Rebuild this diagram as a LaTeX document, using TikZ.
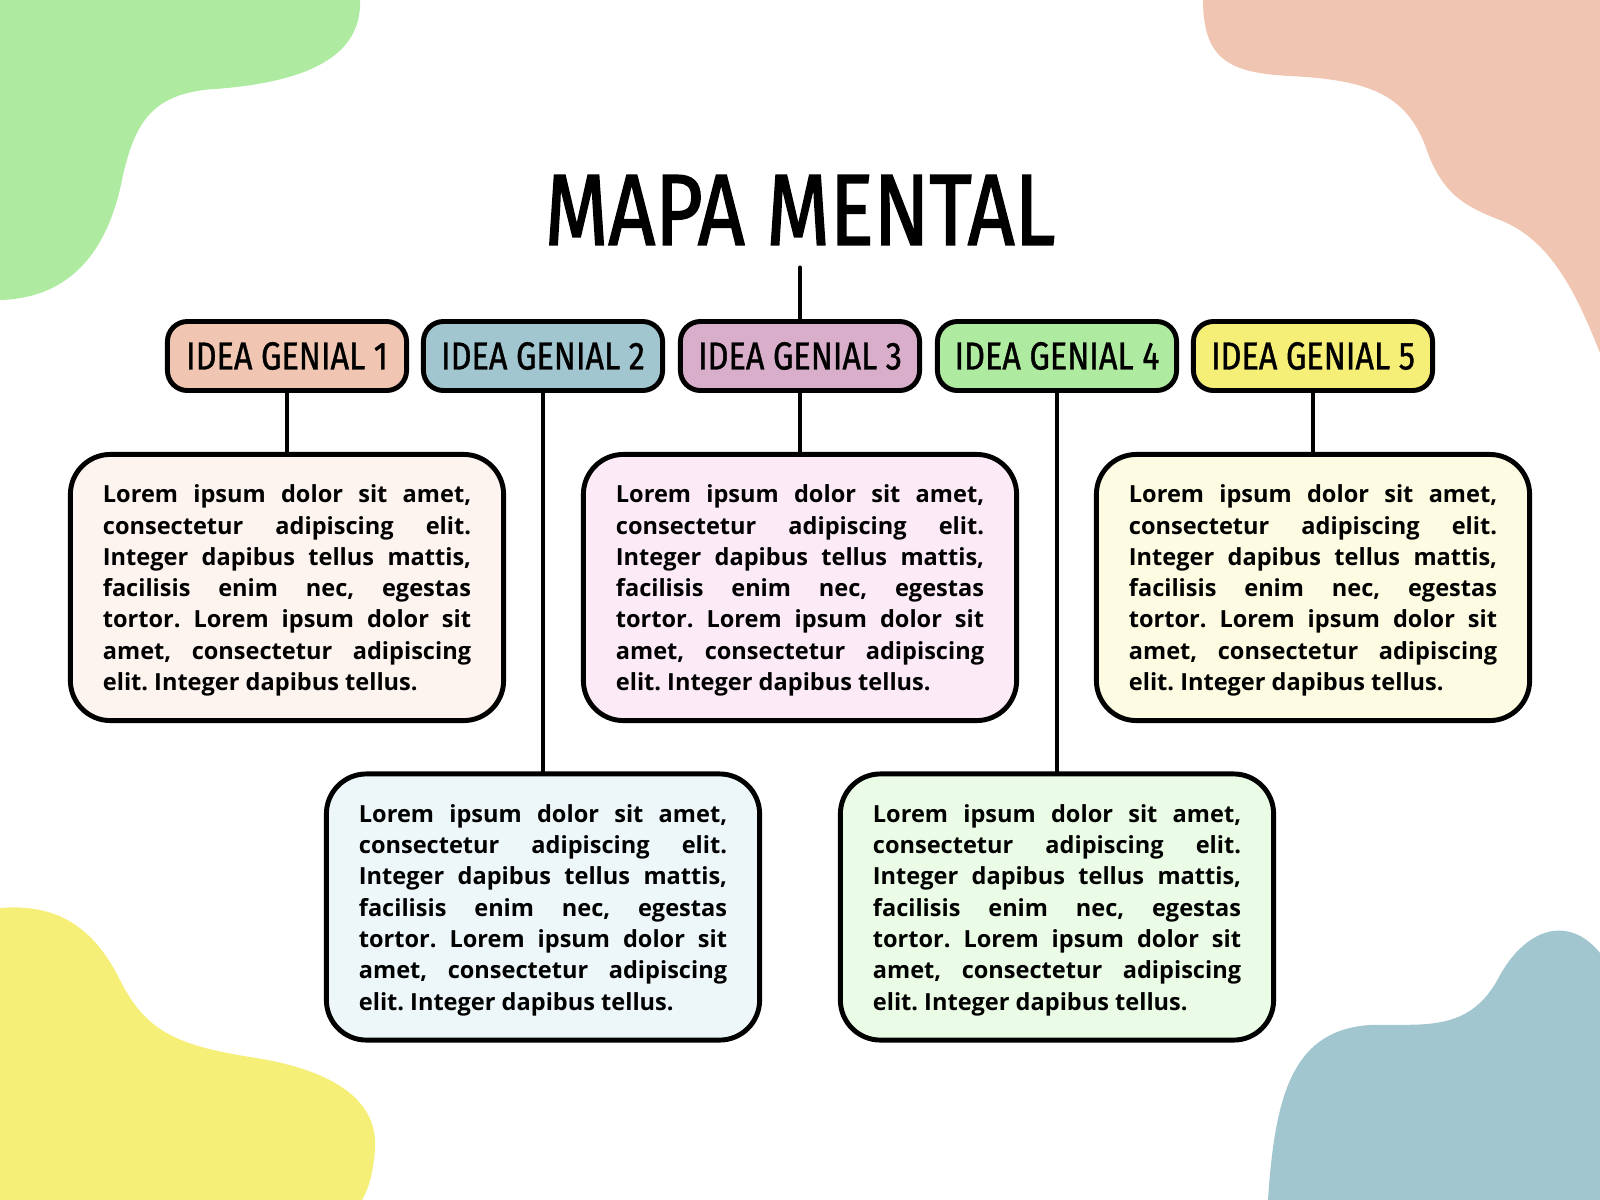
\documentclass[tikz,border=0pt]{standalone}
\usepackage{fontspec}
\setmainfont{Open Sans}
\newfontfamily\handfont[FakeStretch=0.83,FakeBold=1]{Fira Sans}
\newfontfamily\titlefont[FakeStretch=0.81,FakeBold=1.5]{Fira Sans}
\definecolor{pA}{HTML}{F0C6B2}\definecolor{bA}{HTML}{FDF4EF}
\definecolor{pB}{HTML}{A2C6CF}\definecolor{bB}{HTML}{EDF7F9}
\definecolor{pC}{HTML}{D9AECB}\definecolor{bC}{HTML}{FCEBF7}
\definecolor{pD}{HTML}{AEEBA0}\definecolor{bD}{HTML}{EBFCE6}
\definecolor{pE}{HTML}{F5EE77}\definecolor{bE}{HTML}{FDFCE2}
\newcommand{\lorem}{\rule{0pt}{6.8pt}Lorem ipsum dolor sit amet,\linebreak consectetur adipiscing elit.\linebreak Integer dapibus tellus mattis,\linebreak facilisis enim nec, egestas\linebreak tortor. Lorem ipsum dolor sit\linebreak amet, consectetur adipiscing\linebreak elit. Integer dapibus tellus.}
\tikzset{
pill/.style={draw,line width=1.4pt,rounded corners=0.2cm,minimum width=2.39cm,minimum height=0.69cm,inner sep=0pt,font=\handfont\fontsize{11.1}{12}\selectfont},
card/.style={draw,line width=1.4pt,rounded corners=0.4cm,minimum width=4.33cm,minimum height=2.66cm,text width=3.68cm,align=justify,inner sep=0pt,font=\frenchspacing\bfseries\fontsize{6.7}{8.9}\selectfont},
stem/.style={line width=1.15pt,line cap=round}}
\begin{document}
\begin{tikzpicture}[x=0.01cm,y=-0.01cm]
\useasboundingbox (0,0) rectangle (1600,1200);
\fill[pD] (0,0)--(360,0) .. controls (362,55) and (310,82) .. (215,89) .. controls (150,93) and (135,125) .. (123,175) .. controls (110,245) and (75,298) .. (0,300)--cycle;
\fill[pA] (1600,0)--(1203,0) .. controls (1203,60) and (1230,73) .. (1290,76) .. controls (1370,80) and (1405,95) .. (1425,145) .. controls (1440,190) and (1460,205) .. (1500,220) .. controls (1550,240) and (1575,290) .. (1600,353)--cycle;
\fill[pE] (0,1200)--(0,908) .. controls (60,903) and (95,930) .. (120,980) .. controls (145,1030) and (175,1045) .. (250,1057) .. controls (350,1072) and (378,1110) .. (375,1150) .. controls (373,1175) and (368,1190) .. (362,1200)--cycle;
\fill[pB] (1600,1200)--(1268,1200) .. controls (1275,1090) and (1295,1030) .. (1370,1025) .. controls (1420,1023) and (1470,1035) .. (1500,975) .. controls (1520,940) and (1545,928) .. (1565,931) .. controls (1580,933) and (1592,943) .. (1600,953)--cycle;
\node[font=\titlefont\fontsize{28.7}{30}\selectfont,inner sep=0pt] (t) at (800,210) {MAPA MENTAL};
\foreach \i/\x/\c in {1/287/pA,2/543/pB,3/800/pC,4/1057/pD,5/1313/pE}
\node[pill,fill=\c] (p\i) at (\x,356) {IDEA GENIAL \i};
\foreach \i/\x/\y/\c in {1/287/587.5/bA,2/543/907/bB,3/800/587.5/bC,4/1057/907/bD,5/1313/587.5/bE}{
\node[card,fill=\c] (b\i) at (\x,\y) {\lorem};
\draw[stem] (p\i)--(b\i);}
\draw[stem,shorten <=0.22cm] (t)--(p3);
\end{tikzpicture}
\end{document}
